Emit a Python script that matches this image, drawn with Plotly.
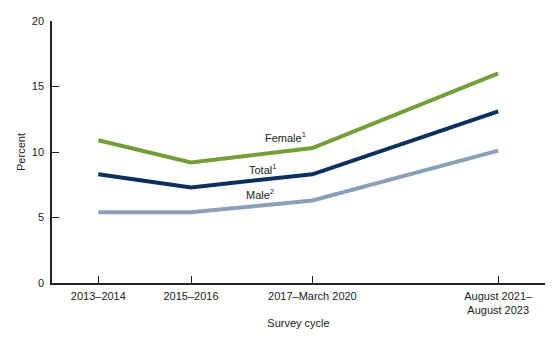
import plotly.graph_objects as go

cycles = ["2013–2014", "2015–2016", "2017–March 2020", "August 2021–<br>August 2023"]
cycle_mid = [2014.0, 2016.0, 2018.62, 2022.63]  # midpoint year of each cycle
female = [10.9, 9.2, 10.3, 16.0]
total = [8.3, 7.3, 8.3, 13.1]
male = [5.4, 5.4, 6.3, 10.1]
y_ticks = [0, 5, 10, 15, 20]

series = [
    ("Female", female, "#739f36"),
    ("Total", total, "#0b2f5e"),
    ("Male", male, "#8a9fba"),
]

fig = go.Figure()
for name, vals, col in series:
    fig.add_trace(go.Scatter(x=cycle_mid, y=vals, mode="lines", name=name,
                             line=dict(color=col, width=4), showlegend=False,
                             hoverinfo="skip"))

font = "Liberation Sans, Arial, sans-serif"
labels = [("Female<sup>1</sup>", 2018.03, 10.88), ("Total<sup>1</sup>", 2017.56, 8.51), ("Male<sup>2</sup>", 2017.48, 6.56)]
for txt, x, y in labels:
    fig.add_annotation(x=x, y=y, text=txt, showarrow=False, yshift=3,
                       font=dict(family=font, size=11, color="#222"),
                       xanchor="center", yanchor="middle")

fig.update_layout(
    width=560, height=342,
    margin=dict(l=52, r=15, t=21, b=59, autoexpand=False),
    plot_bgcolor="white", paper_bgcolor="white",
    font=dict(family=font, size=11, color="#222"),
    xaxis=dict(range=[2013.0, 2023.64], tickvals=cycle_mid, ticktext=cycles,
               ticks="inside", ticklen=7, tickcolor="#222", tickwidth=1.2,
               showline=True, linecolor="#222", linewidth=1.5, automargin=False,
               showgrid=False, zeroline=False, ticklabelstandoff=2,
               title=dict(text="Survey cycle", font=dict(size=11), standoff=4)),
    yaxis=dict(range=[0, 20], tickvals=y_ticks,
               ticks="inside", ticklen=7, tickcolor="#222", tickwidth=1.2,
               showline=True, linecolor="#222", linewidth=1.5, automargin=False,
               showgrid=False, zeroline=False, ticklabelstandoff=4,
               title=dict(text="Percent", font=dict(size=11), standoff=4)),
)

fig.write_html("out.html")
